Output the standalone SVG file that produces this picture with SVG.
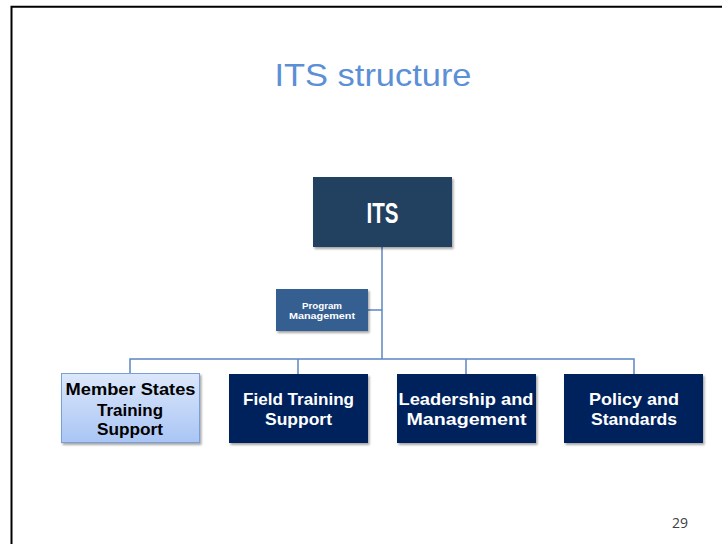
<svg xmlns="http://www.w3.org/2000/svg" width="722" height="544" viewBox="0 0 722 544">
<defs>
<linearGradient id="lg" x1="0" y1="0" x2="0" y2="1">
<stop offset="0" stop-color="#dce7fa"/>
<stop offset="1" stop-color="#a9c5f5"/>
</linearGradient>
<filter id="sh" x="-10%" y="-10%" width="125%" height="130%">
<feDropShadow dx="1.5" dy="2" stdDeviation="1.2" flood-color="#000" flood-opacity="0.35"/>
</filter>
</defs>
<style>
.t{font-family:"Liberation Sans",Arial,sans-serif;font-weight:bold;text-anchor:middle}
.w{fill:#fff}
.dk{fill:#00205b}
.ln{stroke:#5b86c5;stroke-width:1.5;fill:none}
</style>
<rect width="722" height="544" fill="#fff"/>
<path d="M11.5,544 V6.8 H722" fill="none" stroke="#000" stroke-width="2"/>
<text x="373" y="86" font-family="'Liberation Sans',Arial,sans-serif" font-size="32" fill="#5b8fd6" text-anchor="middle" textLength="197" lengthAdjust="spacingAndGlyphs">ITS structure</text>
<g id="connectors">
<path class="ln" d="M382,247 V359"/>
<path class="ln" d="M368,310 H382"/>
<path class="ln" d="M130,373 V359 H634 V374"/>
<path class="ln" d="M298,359 V374"/>
<path class="ln" d="M466,359 V374"/>
</g>
<g id="its">
<rect x="313" y="177" width="139" height="70" fill="#243f60" filter="url(#sh)"/>
<text class="t w" x="382.5" y="222.5" font-size="29" textLength="32" lengthAdjust="spacingAndGlyphs">ITS</text>
</g>
<g id="program-management">
<rect x="276" y="289" width="92" height="42" fill="#365f91" filter="url(#sh)"/>
<text class="t w" x="322" y="308.5" font-size="9.5" textLength="40" lengthAdjust="spacingAndGlyphs">Program</text>
<text class="t w" x="322" y="319" font-size="9.5" textLength="66" lengthAdjust="spacingAndGlyphs">Management</text>
</g>
<g id="member-states">
<rect x="61.5" y="373.5" width="138" height="69" fill="url(#lg)" stroke="#7a9fd4" stroke-width="1" filter="url(#sh)"/>
<text class="t" x="130.5" y="395" font-size="17" fill="#000" textLength="130" lengthAdjust="spacingAndGlyphs">Member States</text>
<text class="t" x="130" y="415.5" font-size="17" fill="#000" textLength="66" lengthAdjust="spacingAndGlyphs">Training</text>
<text class="t" x="130" y="435" font-size="17" fill="#000" textLength="66" lengthAdjust="spacingAndGlyphs">Support</text>
</g>
<g id="field-training">
<rect class="dk" x="229" y="374" width="139" height="69" filter="url(#sh)"/>
<text class="t w" x="298.5" y="405" font-size="17" textLength="111" lengthAdjust="spacingAndGlyphs">Field Training</text>
<text class="t w" x="298.5" y="425" font-size="17" textLength="67" lengthAdjust="spacingAndGlyphs">Support</text>
</g>
<g id="leadership">
<rect class="dk" x="397" y="374" width="139" height="69" filter="url(#sh)"/>
<text class="t w" x="466" y="405" font-size="17" textLength="135" lengthAdjust="spacingAndGlyphs">Leadership and</text>
<text class="t w" x="466.5" y="425" font-size="17" textLength="120" lengthAdjust="spacingAndGlyphs">Management</text>
</g>
<g id="policy">
<rect class="dk" x="564" y="374" width="139" height="69" filter="url(#sh)"/>
<text class="t w" x="634" y="405" font-size="17" textLength="90" lengthAdjust="spacingAndGlyphs">Policy and</text>
<text class="t w" x="634" y="425" font-size="17" textLength="86" lengthAdjust="spacingAndGlyphs">Standards</text>
</g>
<text x="680" y="528" font-family="'Open Sans','Liberation Sans',sans-serif" font-size="14" fill="#404040" text-anchor="middle">29</text>
</svg>
